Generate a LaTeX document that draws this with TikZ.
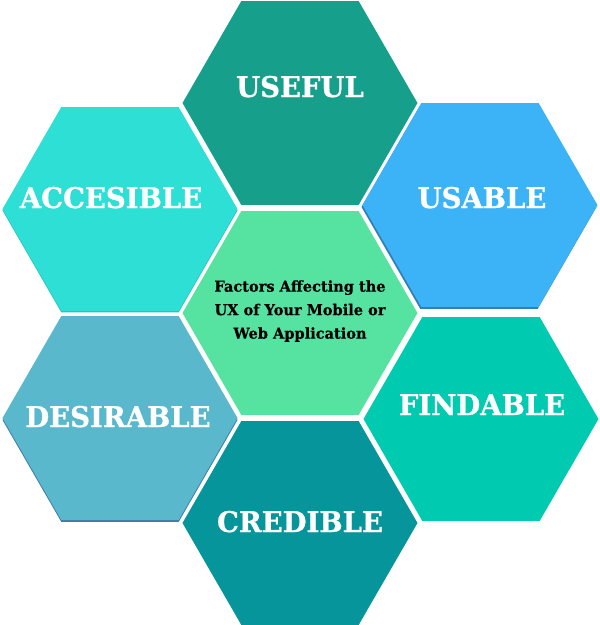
\documentclass[tikz,border=0pt]{standalone}
\usepackage{fontspec}
\setmainfont{DejaVu Serif}
\newfontfamily\lblfont{DejaVu Serif Bold}[FakeStretch=0.965,FakeBold=0.8]
\newfontfamily\ctrfont{DejaVu Serif Bold}[FakeStretch=0.97,FakeBold=0.4]
\definecolor{cUseful}{HTML}{16A08B}
\definecolor{cAcces}{HTML}{2EDFD5}
\definecolor{cUsable}{HTML}{3BB3F6}
\definecolor{cCenter}{HTML}{56E3A2}
\definecolor{cDesir}{HTML}{59B8CC}
\definecolor{cFind}{HTML}{00CAAF}
\definecolor{cCred}{HTML}{05959A}
\definecolor{sUsable}{HTML}{2F7FB8}
\definecolor{sDesir}{HTML}{3F7FAA}
\definecolor{sAcces}{HTML}{26C4BC}
\newcommand{\hexfill}[3]{\fill[#3] ({#1-117.5},{#2}) -- ({#1-58.75},{#2-101.8}) -- ({#1+58.75},{#2-101.8}) -- ({#1+117.5},{#2}) -- ({#1+58.75},{#2+101.8}) -- ({#1-58.75},{#2+101.8}) -- cycle;}
\begin{document}
\begin{tikzpicture}[x=1pt,y=-1pt,
  lbl/.style={text=white,font=\lblfont\fontsize{28.5}{30}\selectfont,inner sep=0pt,anchor=base},
  ctr/.style={text=black,font=\ctrfont\fontsize{15}{23.5}\selectfont,align=center,inner sep=0pt}]
\useasboundingbox (0,0) rectangle (600,625);
\fill[white] (0,0) rectangle (600,625);
\begin{scope}
\clip (0,0) rectangle (600,625);
% shadows
\hexfill{479}{207}{sUsable}
\hexfill{120}{420}{sDesir}
\hexfill{120}{210.5}{sAcces}
% hexagons
\hexfill{300}{103}{cUseful}
\hexfill{120}{209}{cAcces}
\hexfill{480}{205}{cUsable}
\hexfill{300}{313}{cCenter}
\hexfill{120}{418}{cDesir}
\hexfill{481}{419}{cFind}
\hexfill{300}{523}{cCred}
\end{scope}
% labels
\node[lbl] (tUseful) at (300,97) {USEFUL};
\node[lbl] (tAcces) at (111,208) {ACCESIBLE};
\node[lbl] (tUsable) at (482,208) {USABLE};
\node[lbl] (tDesir) at (118,427) {DESIRABLE};
\node[lbl] (tFind) at (482,415) {FINDABLE};
\node[lbl] (tCred) at (300,532) {CREDIBLE};
\node[ctr] (tCenter) at (300,311) {Factors Affecting the\\UX of Your Mobile or\\Web Application};
\end{tikzpicture}
\end{document}
